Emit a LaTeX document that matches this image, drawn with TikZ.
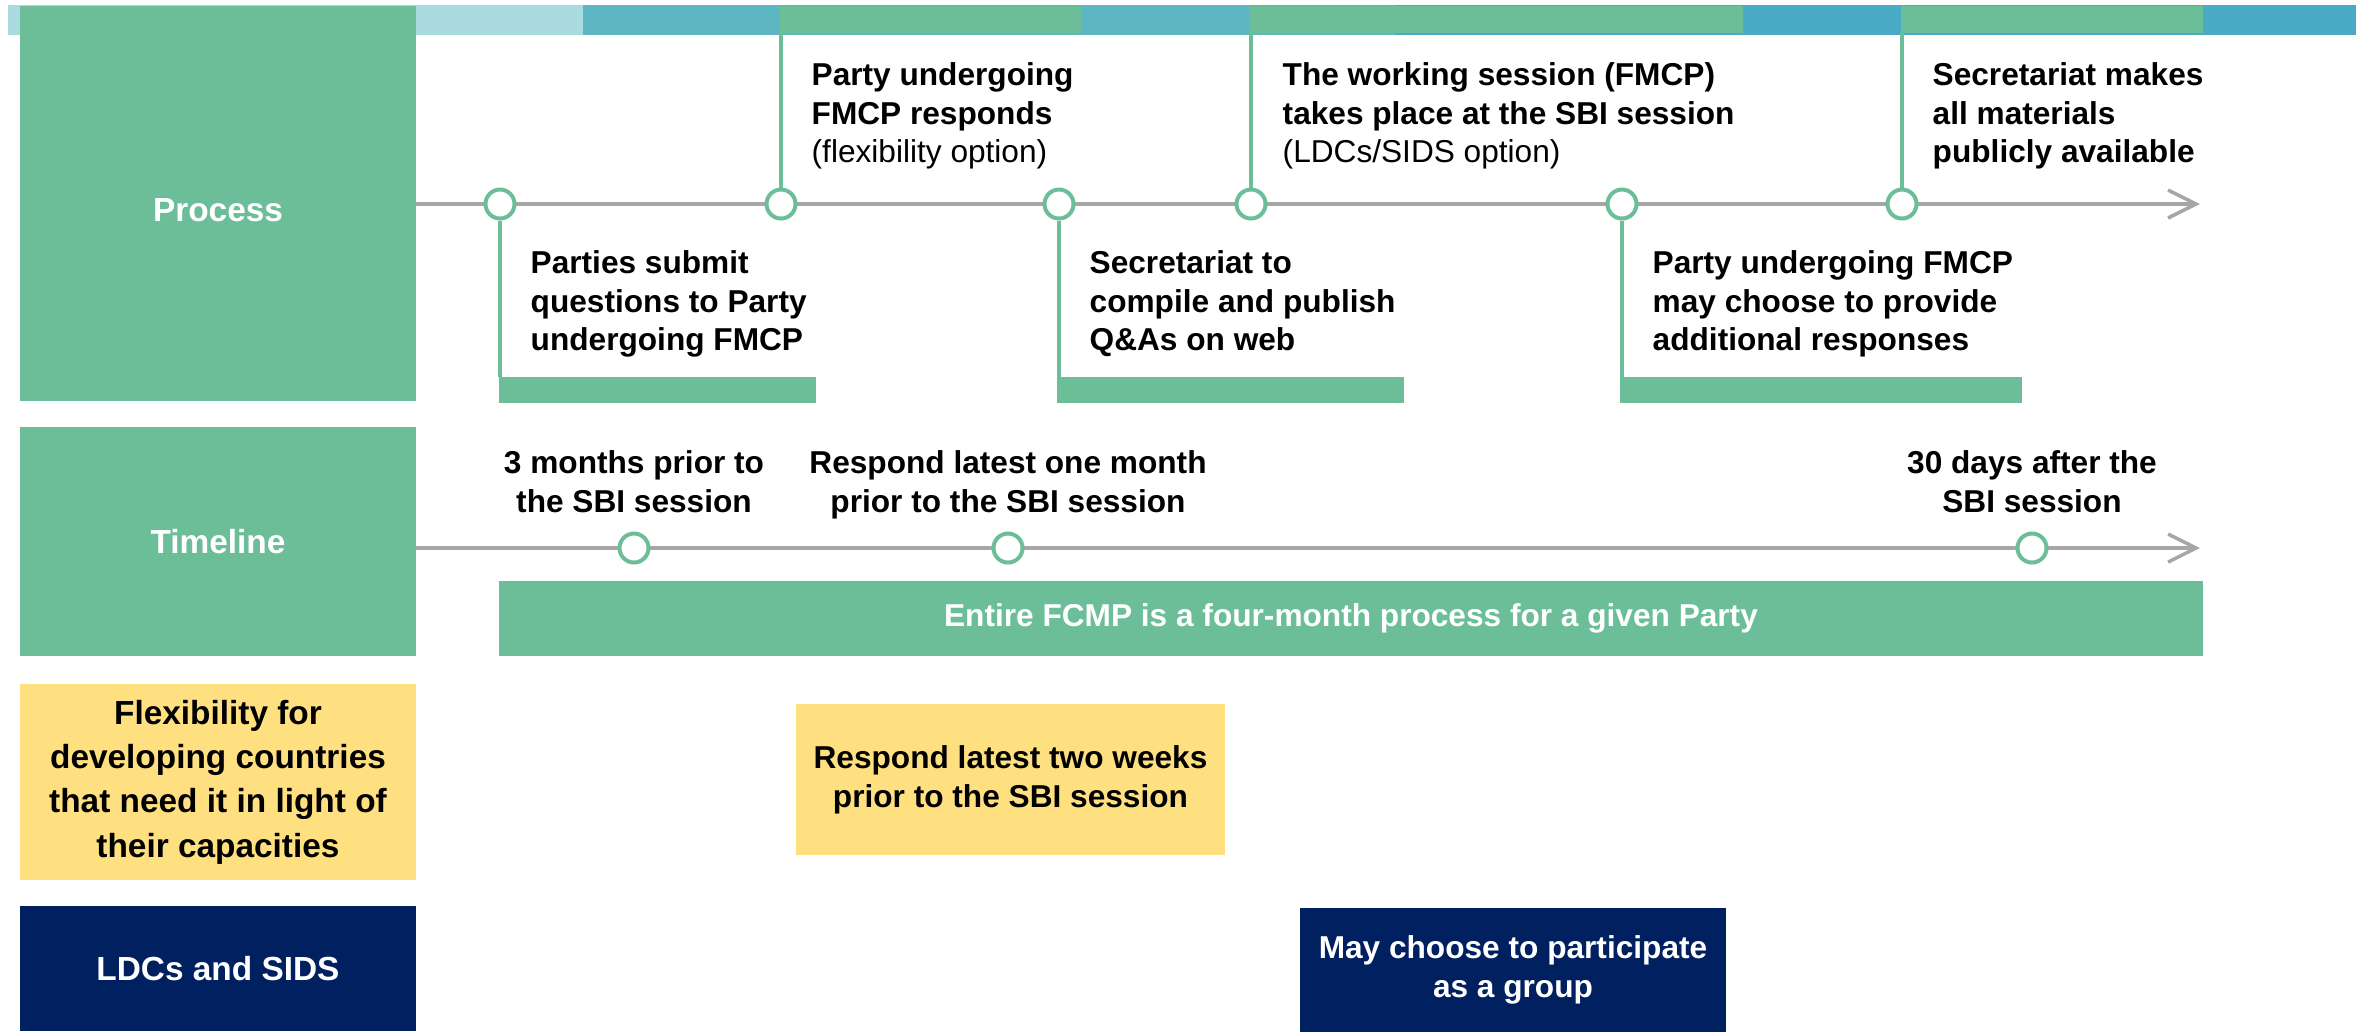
\documentclass[tikz,border=0pt]{standalone}
\usepackage{fontspec}
\setmainfont{Liberation Sans}
\usetikzlibrary{arrows.meta,positioning}

\definecolor{fcgreen}{RGB}{108,190,153}
\definecolor{axisgray}{RGB}{166,166,166}
\definecolor{barlight}{RGB}{170,219,223}
\definecolor{barteal}{RGB}{92,183,195}
\definecolor{barblue}{RGB}{74,171,198}
\definecolor{flexyellow}{RGB}{255,224,128}
\definecolor{ldcnavy}{RGB}{0,32,96}

\newcommand{\headfont}{\fontsize{9.5}{12.6}\selectfont\bfseries}
\newcommand{\notefont}{\fontsize{9}{11}\selectfont\bfseries}

\begin{document}
\begin{tikzpicture}[x=0.1mm,y=-0.1mm,>={Straight Barb[length=2.8mm,width=2.8mm]}]
		\tikzstyle{band}=[rectangle, inner sep=0pt, outer sep=0pt]
		\tikzstyle{head}=[band, text=white, font=\headfont, align=center, minimum width=39.65mm]
		\tikzstyle{stop}=[circle, draw=fcgreen, line width=0.4mm, fill=white, minimum size=2.9mm, inner sep=0pt]
		\tikzstyle{link}=[draw=fcgreen, line width=0.4mm]
		\tikzstyle{axis}=[draw=axisgray, line width=0.35mm, ->]
		\tikzstyle{note}=[inner sep=0pt, align=left, font=\notefont, anchor=north west]
		\tikzstyle{when}=[inner sep=0pt, align=center, font=\notefont, anchor=north]

		\useasboundingbox (0,0) rectangle (2356,1031);

		% coloured strip along the top
		\fill[barlight] (8,5) rectangle (583,35);
		\fill[barteal] (583,5) rectangle (1395,35);
		\fill[barblue] (1395,5) rectangle (2356,35);

		% row headings
		\node [head, fill=fcgreen, minimum height=39.5mm] (proc) at (218,203.5) {\raisebox{-0.65mm}[\height][0pt]{Process}};
		\node [head, fill=fcgreen, minimum height=22.9mm] (time) at (218,541.5) {Timeline};
		\node [head, fill=flexyellow, text=black, minimum height=19.6mm] (flex) at (218,782)
			{Flexibility for\\developing countries\\that need it in light of\\their capacities};
		\node [head, fill=ldcnavy, minimum height=12.5mm] (ldc) at (218,968.5) {LDCs and SIDS};

		% green tabs
		\node [band, fill=fcgreen, minimum width=30.2mm, minimum height=2.7mm, anchor=north west] (o1) at (780,6) {};
		\node [band, fill=fcgreen, minimum width=49.3mm, minimum height=2.7mm, anchor=north west] (o2) at (1250,6) {};
		\node [band, fill=fcgreen, minimum width=30.2mm, minimum height=2.7mm, anchor=north west] (o3) at (1901,6) {};
		\node [band, fill=fcgreen, minimum width=31.7mm, minimum height=2.6mm, anchor=north west] (u1) at (499,377) {};
		\node [band, fill=fcgreen, minimum width=34.7mm, minimum height=2.6mm, anchor=north west] (u2) at (1057,377) {};
		\node [band, fill=fcgreen, minimum width=40.2mm, minimum height=2.6mm, anchor=north west] (u3) at (1620,377) {};

		\node [band, fill=fcgreen, text=white, font=\notefont, minimum width=170.4mm, minimum height=7.5mm] (span) at (1351,618.5)
			{Entire FCMP is a four-month process for a given Party};
		\node [band, fill=flexyellow, font=\notefont, align=center, minimum width=42.9mm, minimum height=15.1mm] (twoweeks) at (1010.5,779.5)
			{Respond latest two weeks\\prior to the SBI session};
		\node [band, fill=ldcnavy, text=white, font=\notefont, align=center, minimum width=42.6mm, minimum height=12.5mm] (group) at (1513,970)
			{May choose to participate\\as a group};

		% the two time axes
		\coordinate (pend) at (2200,204);
		\coordinate (tend) at (2200,548);
		\draw [axis] (proc.east |- pend) -- (pend);
		\draw [axis] (time.east |- tend) -- (tend);

		\node [stop] (c1) at (500,204) {};
		\node [stop] (c2) at (781,204) {};
		\node [stop] (c3) at (1059,204) {};
		\node [stop] (c4) at (1251,204) {};
		\node [stop] (c5) at (1622,204) {};
		\node [stop] (c6) at (1902,204) {};
		\node [stop] (c7) at (634,548) {};
		\node [stop] (c8) at (1008,548) {};
		\node [stop] (c9) at (2032,548) {};

		\draw [link] (c1) -- (c1 |- u1.north);
		\draw [link] (c2) -- (c2 |- o1.south);
		\draw [link] (c3) -- (c3 |- u2.north);
		\draw [link] (c4) -- (c4 |- o2.south);
		\draw [link] (c5) -- (c5 |- u3.north);
		\draw [link] (c6) -- (c6 |- o3.south);

		% step texts
		\node [note] (t1) at (530,250) {Parties submit\\questions to Party\\undergoing FMCP};
		\node [note] (t2) at (811,62) {Party undergoing\\FMCP responds\\{\mdseries (flexibility option)}};
		\node [note] (t3) at (1089,250) {Secretariat to\\compile and publish\\Q\&As on web};
		\node [note] (t4) at (1282,62) {The working session (FMCP)\\takes place at the SBI session\\{\mdseries (LDCs/SIDS option)}};
		\node [note] (t5) at (1652,250) {Party undergoing FMCP\\may choose to provide\\additional responses};
		\node [note] (t6) at (1932,62) {Secretariat makes\\all materials\\publicly available};

		\node [when] (w1) at (c7 |- 0,450) {3 months prior to\\the SBI session};
		\node [when] (w2) at (c8 |- 0,450) {Respond latest one month\\prior to the SBI session};
		\node [when] (w3) at (c9 |- 0,450) {30 days after the\\SBI session};
	\end{tikzpicture}
\end{document}
